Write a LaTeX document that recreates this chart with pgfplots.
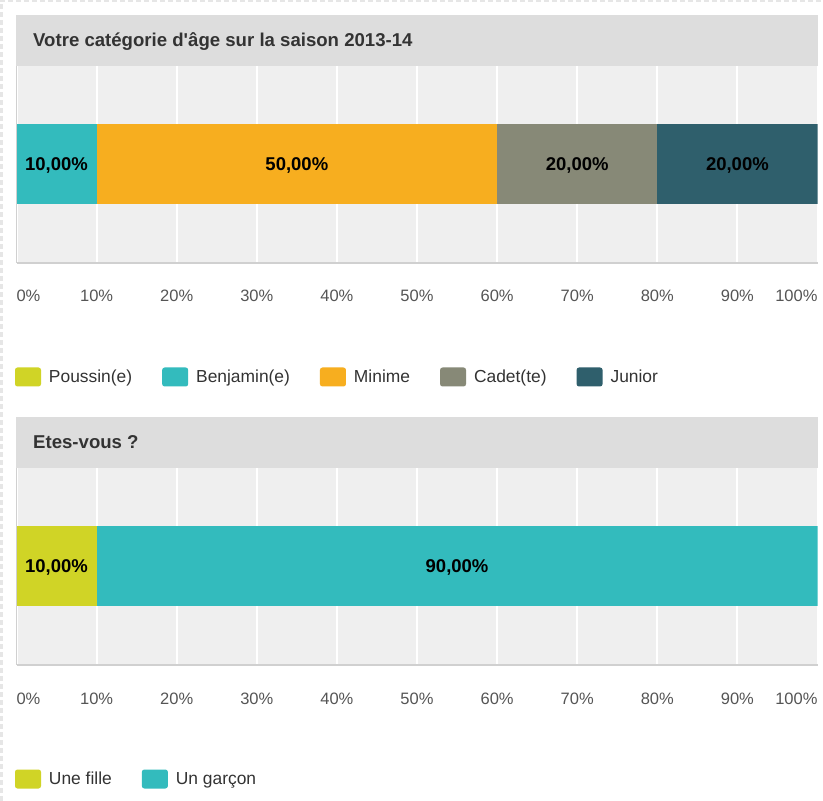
\documentclass[border=0pt]{standalone}
\usepackage{pgfplots}
\pgfplotsset{compat=1.18}
\usepackage{fontspec}
\setmainfont{Liberation Sans}
\definecolor{cPou}{HTML}{D0D426}
\definecolor{cBen}{HTML}{33BBBD}
\definecolor{cMin}{HTML}{F7AE1F}
\definecolor{cCad}{HTML}{878977}
\definecolor{cJun}{HTML}{2F5F6C}
\definecolor{cTitle}{HTML}{DDDDDD}
\definecolor{cBg}{HTML}{EFEFEF}
\definecolor{cBorder}{HTML}{D0D0D0}
\definecolor{cText}{HTML}{333333}
\definecolor{cTick}{HTML}{555555}
\definecolor{cEdge}{HTML}{E6E6E6}
\pgfplotsset{
  barchart/.style={
    xbar stacked,
    scale only axis,
    width=801pt, height=197pt,
    xmin=0, xmax=100,
    ymin=-1.01, ymax=0.99,
    bar width=80pt,
    axis background/.style={fill=cBg},
    separate axis lines,
    axis x line*=bottom,
    axis y line*=left,
    x axis line style={cBorder, line width=2.5pt, -},
    y axis line style={cBorder, line width=1.2pt, -},
    major tick length=0pt,
    ytick=\empty,
    xtick={0,10,...,100},
    xticklabels={{\rlap{0\%}},10\%,20\%,30\%,40\%,50\%,60\%,70\%,80\%,90\%,{\llap{100\%}}},
    xticklabel style={anchor=base, yshift=-39pt, font=\fontsize{16.5}{20}\selectfont, text=cTick},
    xmajorgrids,
    major grid style={white, line width=2pt},
    legend columns=-1,
    legend cell align=left,
    legend image code/.code={\fill[##1, draw=none, rounded corners=2.5pt] (0pt,-9.5pt) rectangle (26pt,9.5pt);},
    legend style={draw=none, fill=none, inner sep=0pt, outer sep=0pt,
      at={(0,0)}, anchor=west, xshift=-1.5pt, yshift=-114pt,
      font=\fontsize{17.4}{20}\selectfont, text=cText,
      nodes={inner sep=0pt},
      /tikz/every odd column/.append style={column sep=8pt},
      /tikz/every even column/.append style={column sep=30pt}},
  },
  lbl/.style={
    visualization depends on=rawx \as \rawx,
    nodes near coords={\pgfmathprintnumber[fixed,fixed zerofill,precision=2,use comma,assume math mode=true]{\rawx}\%},
    every node near coord/.append style={anchor=center, text=black, yshift=-1.5pt,
      font=\bfseries\fontsize{18.5}{22}\selectfont},
  },
}
\begin{document}
\begin{tikzpicture}
\useasboundingbox[fill=white] (0pt,0pt) rectangle (823pt,801pt);
% page edge (dashed frame of the screenshot)
\draw[cEdge, line width=2.5pt, dash pattern=on 5pt off 3pt] (1.25pt,0pt) -- (1.25pt,801pt);
\draw[cEdge, line width=2.5pt, dash pattern=on 5pt off 3pt] (0pt,799.75pt) -- (823pt,799.75pt);
% ---------- chart 1 ----------
\fill[cTitle] (16pt,786pt) rectangle (818pt,735pt);
\node[anchor=base west, inner sep=0pt, text=cText, font=\bfseries\fontsize{18.6}{22}\selectfont] at (33pt,754.3pt) {Votre catégorie d\textquotesingle âge sur la saison 2013-14};
\begin{axis}[barchart, at={(16.5pt,538pt)}, anchor=south west]
\addplot[fill=cPou, draw=none] coordinates {(0,0)};
\addplot[fill=cBen, draw=none, lbl] coordinates {(10,0)};
\addplot[fill=cMin, draw=none, lbl] coordinates {(50,0)};
\addplot[fill=cCad, draw=none, lbl] coordinates {(20,0)};
\addplot[fill=cJun, draw=none, lbl] coordinates {(20,0)};
\legend{Poussin(e),Benjamin(e),Minime,Cadet(te),Junior}
\end{axis}
% ---------- chart 2 ----------
\fill[cTitle] (16pt,384pt) rectangle (818pt,333pt);
\node[anchor=base west, inner sep=0pt, text=cText, font=\bfseries\fontsize{18.6}{22}\selectfont] at (33pt,352pt) {Etes-vous ?};
\begin{axis}[barchart, at={(16.5pt,136pt)}, anchor=south west]
\addplot[fill=cPou, draw=none, lbl] coordinates {(10,0)};
\addplot[fill=cBen, draw=none, lbl] coordinates {(90,0)};
\legend{Une fille,Un garçon}
\end{axis}
\end{tikzpicture}
\end{document}
